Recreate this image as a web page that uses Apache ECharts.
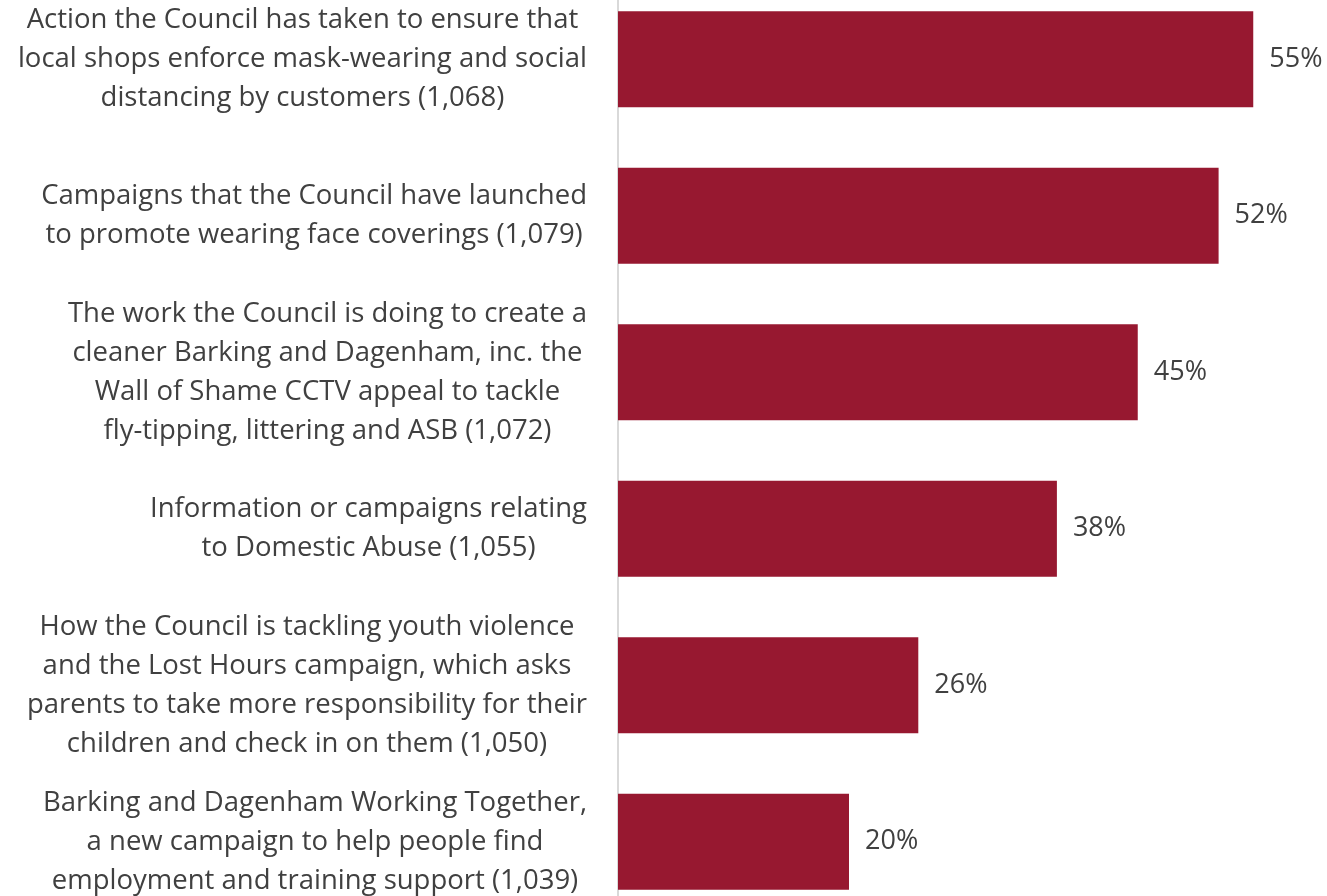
<!DOCTYPE html>
<html>
<head>
<meta charset="utf-8">
<script src="https://cdn.jsdelivr.net/npm/echarts@6/dist/echarts.min.js"></script>
<style>
  html, body { margin: 0; padding: 0; background: #fff; overflow: hidden; width: 1327px; height: 896px; }
  /* plot area runs slightly past the top and bottom edges of the page */
  #chart { position: absolute; left: 0; top: -19px; width: 1327px; height: 939px; }
</style>
</head>
<body>
<div id="chart"></div>
<script>
// Survey items (top to bottom), with respondent counts in brackets
const categories = [
  'Action the Council has taken to ensure that\nlocal shops enforce mask-wearing and social\ndistancing by customers (1,068)',
  'Campaigns that the Council have launched\nto promote wearing face coverings (1,079)',
  'The work the Council is doing to create a\ncleaner Barking and Dagenham, inc. the\nWall of Shame CCTV appeal to tackle\nfly-tipping, littering and ASB (1,072)',
  'Information or campaigns relating\nto Domestic Abuse (1,055)',
  'How the Council is tackling youth violence\nand the Lost Hours campaign, which asks\nparents to take more responsibility for their\nchildren and check in on them (1,050)',
  'Barking and Dagenham Working Together,\na new campaign to help people find\nemployment and training support (1,039)'
];
// Share of respondents (%)
const values = [55, 52, 45, 38, 26, 20];

const FONT = '"Open Sans", Lato, sans-serif';
const TEXT = '#404040';

const chart = echarts.init(document.getElementById('chart'));
chart.setOption({
  animation: false,
  grid: { left: 618, right: 16, top: 0, bottom: 0, containLabel: false },
  xAxis: {
    type: 'value', min: 0, max: 60,
    show: false
  },
  yAxis: {
    type: 'category',
    inverse: true,
    data: categories,
    axisLine: { show: true, lineStyle: { color: '#d9d9d9', width: 2 } },
    axisTick: { show: false },
    axisLabel: {
      margin: 31,
      align: 'right',
      // each line centred inside the right-aligned label block
      formatter: v => v.split('\n').map(l => '{c|' + l + '}').join('\n'),
      rich: {
        c: { align: 'center', fontFamily: FONT, fontSize: 27.5, lineHeight: 39, color: TEXT }
      }
    }
  },
  series: [{
    type: 'bar',
    data: values,
    barCategoryGap: '38.5%',
    itemStyle: { color: '#971830' },
    label: {
      show: true,
      position: 'right',
      distance: 16,
      formatter: p => p.value + '%',
      fontFamily: FONT,
      fontSize: 27,
      color: TEXT
    }
  }]
});
</script>
</body>
</html>
